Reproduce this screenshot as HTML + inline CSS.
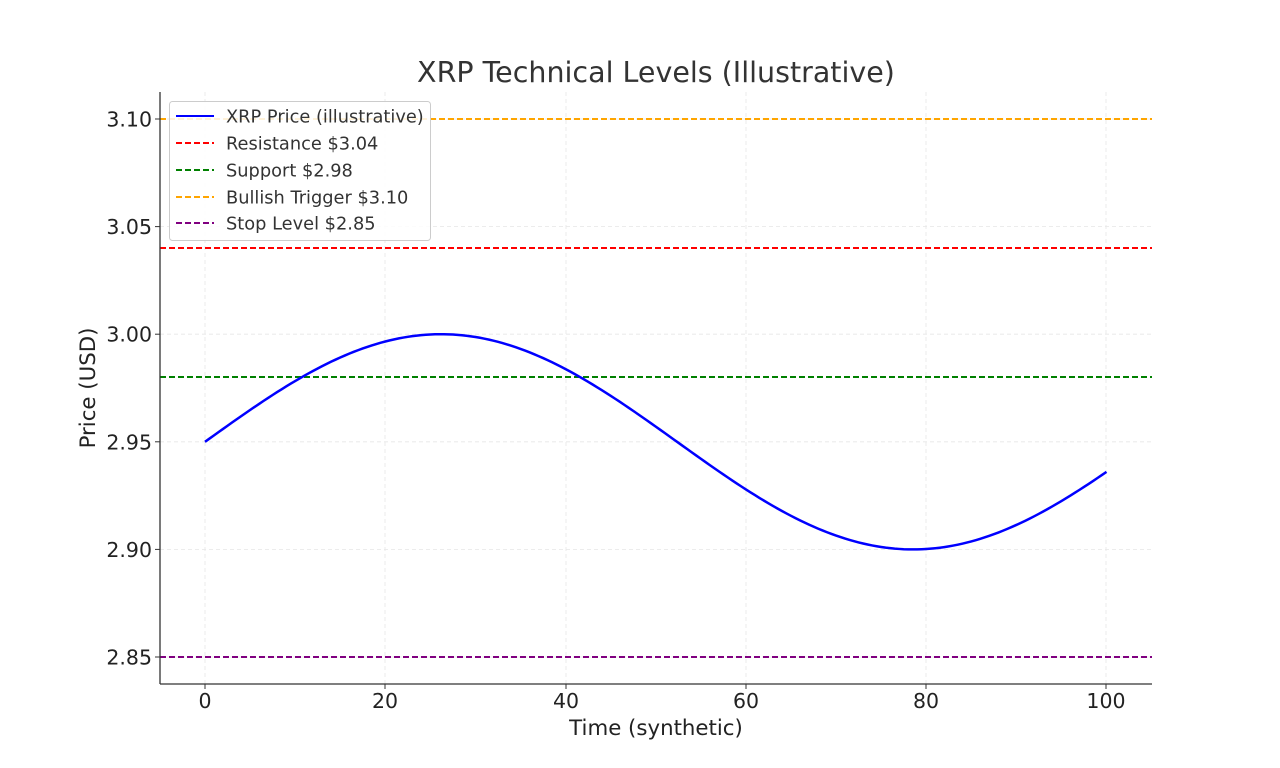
<!DOCTYPE html>
<html><head><meta charset="utf-8"><style>
html,body{margin:0;padding:0;background:#fff;}
svg{display:block;font-family:"DejaVu Sans","Liberation Sans",sans-serif;}
</style></head><body>
<svg width="1280" height="768" viewBox="0 0 1280 768" xmlns="http://www.w3.org/2000/svg">
<rect width="1280" height="768" fill="#fff"/>
<text x="656" y="82" text-anchor="middle" font-size="28.5" fill="#333">XRP Technical Levels (Illustrative)</text>
<g stroke="#e6e6e6" stroke-width="0.8" stroke-dasharray="4,3">
<line x1="205" y1="92" x2="205" y2="684"/><line x1="385" y1="92" x2="385" y2="684"/>
<line x1="566" y1="92" x2="566" y2="684"/><line x1="746" y1="92" x2="746" y2="684"/>
<line x1="926" y1="92" x2="926" y2="684"/><line x1="1106" y1="92" x2="1106" y2="684"/>
<line x1="160" y1="119" x2="1152" y2="119"/><line x1="160" y1="226.6" x2="1152" y2="226.6"/>
<line x1="160" y1="334.2" x2="1152" y2="334.2"/><line x1="160" y1="441.8" x2="1152" y2="441.8"/>
<line x1="160" y1="549.4" x2="1152" y2="549.4"/><line x1="160" y1="657" x2="1152" y2="657"/>
</g>
<g stroke-width="2" stroke-dasharray="6,3" fill="none">
<line x1="160" y1="119" x2="1152" y2="119" stroke="orange"/>
<line x1="160" y1="248" x2="1152" y2="248" stroke="red"/>
<line x1="160" y1="377" x2="1152" y2="377" stroke="green"/>
<line x1="160" y1="657" x2="1152" y2="657" stroke="purple"/>
</g>
<path id="curve" fill="none" stroke="blue" stroke-width="2.5" d=""/>
<g stroke="#333" stroke-width="1.3" fill="none">
<line x1="160" y1="92" x2="160" y2="684"/><line x1="160" y1="684" x2="1152" y2="684"/>
</g>
<g stroke="#333" stroke-width="1">
<line x1="205" y1="684" x2="205" y2="689"/><line x1="385" y1="684" x2="385" y2="689"/>
<line x1="566" y1="684" x2="566" y2="689"/><line x1="746" y1="684" x2="746" y2="689"/>
<line x1="926" y1="684" x2="926" y2="689"/><line x1="1106" y1="684" x2="1106" y2="689"/>
<line x1="155" y1="119" x2="160" y2="119"/><line x1="155" y1="226.6" x2="160" y2="226.6"/>
<line x1="155" y1="334.2" x2="160" y2="334.2"/><line x1="155" y1="441.8" x2="160" y2="441.8"/>
<line x1="155" y1="549.4" x2="160" y2="549.4"/><line x1="155" y1="657" x2="160" y2="657"/>
</g>
<g font-size="20.5" fill="#222" text-anchor="middle">
<text x="205" y="708">0</text><text x="385" y="708">20</text><text x="566" y="708">40</text>
<text x="746" y="708">60</text><text x="926" y="708">80</text><text x="1106" y="708">100</text>
</g>
<g font-size="20.5" fill="#222" text-anchor="end">
<text x="152" y="126.5">3.10</text><text x="152" y="234">3.05</text><text x="152" y="341.7">3.00</text>
<text x="152" y="449.3">2.95</text><text x="152" y="557">2.90</text><text x="152" y="664.5">2.85</text>
</g>
<text x="656" y="735" text-anchor="middle" font-size="21.3" fill="#222">Time (synthetic)</text>
<text transform="translate(95,388) rotate(-90)" text-anchor="middle" font-size="21.3" fill="#222">Price (USD)</text>
<rect x="169.5" y="101.5" width="261" height="139" rx="3" fill="#fff" fill-opacity="0.85" stroke="#ccc"/>
<g stroke-width="2" fill="none">
<line x1="176" y1="116" x2="214" y2="116" stroke="blue"/>
<line x1="176" y1="143" x2="214" y2="143" stroke="red" stroke-dasharray="6,3"/>
<line x1="176" y1="170" x2="214" y2="170" stroke="green" stroke-dasharray="6,3"/>
<line x1="176" y1="197" x2="214" y2="197" stroke="orange" stroke-dasharray="6,3"/>
<line x1="176" y1="223" x2="214" y2="223" stroke="purple" stroke-dasharray="6,3"/>
</g>
<g font-size="17.8" fill="#333">
<text x="226" y="122.5">XRP Price (illustrative)</text>
<text x="226" y="149.5">Resistance $3.04</text>
<text x="226" y="176.5">Support $2.98</text>
<text x="226" y="203.5">Bullish Trigger $3.10</text>
<text x="226" y="229.5">Stop Level $2.85</text>
</g>
</svg>
<script>
var d="";for(var i=0;i<=200;i++){var t=i/2;var p=2.95+0.05*Math.sin(t*0.06);var x=205+t*9.015;var y=119+(3.10-p)*2152;d+=(i?"L":"M")+x.toFixed(2)+","+y.toFixed(2);}
document.getElementById("curve").setAttribute("d",d);
</script>
</body></html>
